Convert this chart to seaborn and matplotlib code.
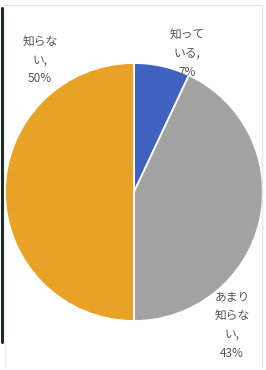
import matplotlib
matplotlib.use("Agg")
import matplotlib.pyplot as plt
import seaborn as sns
from matplotlib.lines import Line2D

categories = ["知っている", "あまり知らない", "知らない"]
values = [7, 43, 50]
label_texts = ["知って\nいる,\n7%", "あまり\n知らな\nい,\n43%", "知らな\nい,\n50%"]
colors = ["#3f62c0", "#a3a3a3", "#e8a326"]

sns.set_theme(style="white")
plt.rcParams['font.family'] = ['Noto Sans CJK JP', 'DejaVu Sans']

W, H = 266, 370
fig = plt.figure(figsize=(W / 100, H / 100), dpi=100)
fig.patch.set_facecolor("white")

cx, cy, r = 134, 192, 129
ax = fig.add_axes([(cx - r) / W, (H - cy - r) / H, 2 * r / W, 2 * r / H])
ax.pie(values, colors=colors, startangle=90, counterclock=False,
       wedgeprops=dict(edgecolor="white", linewidth=1.3))
ax.set_xlim(-1, 1)
ax.set_ylim(-1, 1)
ax.set_aspect("equal")
ax.axis("off")

# label positions (pixel centres)
label_pos = [(187, 53), (232, 325), (40, 60)]
for txt, (px, py) in zip(label_texts, label_pos):
    fig.text(px / W, 1 - py / H, txt, ha="center", va="center",
             fontsize=8.5, color="#555555", linespacing=1.6)

# scanned frame edges
fig.add_artist(Line2D([1.5 / W, 1.5 / W], [1 - 8 / H, 1 - 342 / H],
                      color="#1e2a24", linewidth=2.2))
fig.add_artist(Line2D([4 / W, 262 / W], [1 - 5 / H, 1 - 5 / H],
                      color="#e4e4e4", linewidth=1.0))
fig.add_artist(Line2D([262 / W, 262 / W], [1 - 5 / H, 1 - 368 / H],
                      color="#e8e8e8", linewidth=1.0))
fig.add_artist(Line2D([4.5 / W, 4.5 / W], [1 - 342 / H, 1 - 368 / H],
                      color="#e8e8e8", linewidth=1.0))

fig.savefig("out.png", dpi=100, facecolor="white")
